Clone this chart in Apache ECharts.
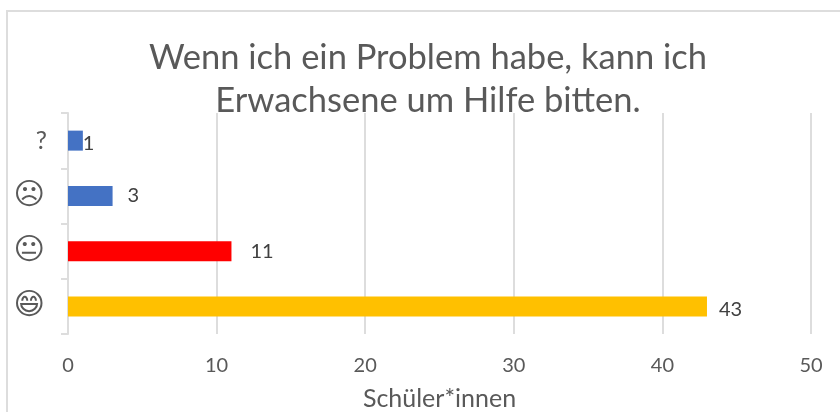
<!DOCTYPE html>
<html>
<head>
<meta charset="utf-8">
<style>
html, body { margin: 0; padding: 0; background: #fff; overflow: hidden; }
#main { width: 840px; height: 412px; }
</style>
<script src="https://cdn.jsdelivr.net/npm/echarts@6/dist/echarts.min.js"></script>
</head>
<body>
<div id="main"></div>
<script>
var categories = ['?', '\u2639', '\uD83D\uDE10', '\uD83D\uDE04'];
var values = [1, 3, 11, 43];
var barColors = ['#4472C4', '#4472C4', '#FF0000', '#FFC000'];
var labelOffsets = [[-5, 3], [10, 0], [14, 0], [7, 3]];
var titleText = 'Wenn ich ein Problem habe, kann ich\nErwachsene um Hilfe bitten.';
var xName = 'Schüler*innen';
var font = 'Lato';

var myChart = echarts.init(document.getElementById('main'), null, { renderer: 'canvas' });

var option = {
    backgroundColor: '#fff',
    animation: false,
    title: {
        text: titleText,
        left: 423,
        top: 31,
        textAlign: 'center',
        textStyle: {
            fontFamily: font,
            fontSize: 34.5,
            fontWeight: 'normal',
            color: '#595959',
            lineHeight: 43
        }
    },
    grid: {
        left: 68,
        right: 29,
        top: 113,
        bottom: 78,
        outerBoundsMode: 'none'
    },
    xAxis: {
        type: 'value',
        min: 0,
        max: 50,
        interval: 10,
        name: xName,
        nameLocation: 'center',
        nameGap: 52,
        nameTextStyle: {
            fontFamily: font,
            fontSize: 25,
            color: '#595959'
        },
        axisLine: { show: false },
        axisTick: { show: false },
        axisLabel: {
            margin: 22,
            fontFamily: font,
            fontSize: 20,
            color: '#595959'
        },
        splitLine: {
            lineStyle: { color: '#DDDDDD', width: 2 }
        }
    },
    yAxis: {
        type: 'category',
        inverse: true,
        data: categories,
        axisLine: {
            show: true,
            lineStyle: { color: '#DDDDDD', width: 2 }
        },
        axisTick: {
            show: true,
            length: 7,
            lineStyle: { color: '#DDDDDD', width: 2 }
        },
        axisLabel: {
            margin: 21,
            color: '#595959',
            formatter: function (v) {
                return v === '?' ? '{q|' + v + '}' : '{f|' + v + '}';
            },
            rich: {
                q: { fontFamily: font, fontSize: 25, color: '#595959' },
                f: { fontFamily: 'DejaVu Sans', fontSize: 30, color: '#595959', padding: [0, 2, 0, 0] }
            }
        }
    },
    series: [{
        type: 'bar',
        barWidth: 20,
        label: {
            show: true,
            position: 'right',
            fontFamily: font,
            fontSize: 20,
            color: '#404040'
        },
        data: values.map(function (v, i) {
            return {
                value: v,
                itemStyle: { color: barColors[i] },
                label: { offset: labelOffsets[i] }
            };
        })
    }],
    graphic: [{
        type: 'rect',
        silent: true,
        z: -1,
        shape: { x: 7, y: 11, width: 900, height: 500 },
        style: { fill: 'none', stroke: '#DDDDDD', lineWidth: 2 }
    }]
};
myChart.setOption(option);
</script>
</body>
</html>
